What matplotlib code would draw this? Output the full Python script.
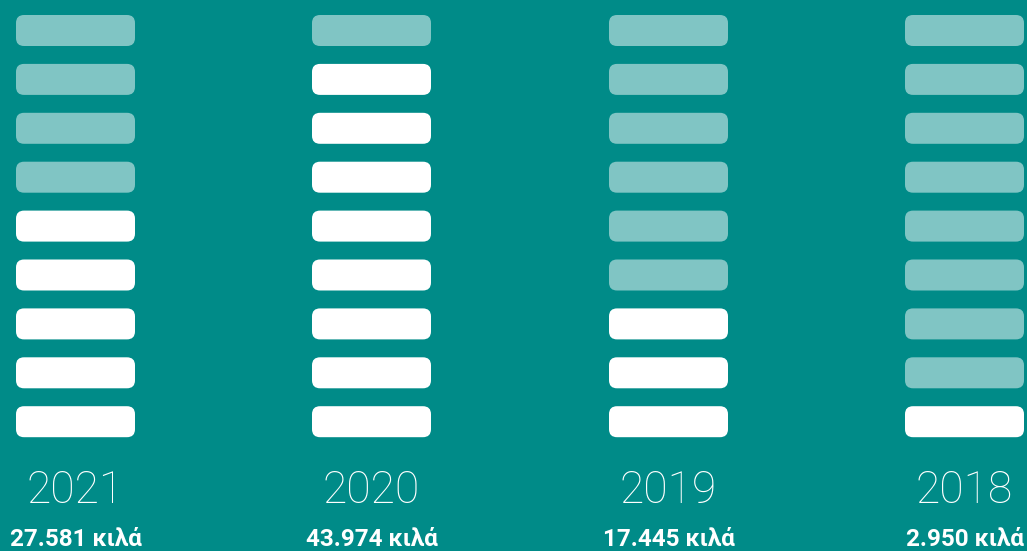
import matplotlib
matplotlib.use('Agg')
from matplotlib import pyplot as plt
from matplotlib.patches import FancyBboxPatch

years = ['2021', '2020', '2019', '2018']
values = ['27.581 κιλά', '43.974 κιλά', '17.445 κιλά', '2.950 κιλά']
filled = [5, 8, 3, 1]
n_slots = 9

bg = '#008b88'
light = '#80c5c4'

fig = plt.figure(figsize=(10.27, 5.51), dpi=100)
fig.patch.set_facecolor(bg)
ax = fig.add_axes([0, 0, 1, 1])
ax.set_facecolor(bg)
ax.set_xlim(0, 1027)
ax.set_ylim(551, 0)
ax.axis('off')

col_left = [16, 312, 609, 905]
w, h = 119, 31
top0, step = 15, 48.9
pad = 8

for i, year in enumerate(years):
    x0 = col_left[i]
    for j in range(n_slots):
        y0 = top0 + j * step
        # slots are filled from the bottom
        is_filled = j >= n_slots - filled[i]
        ax.add_patch(FancyBboxPatch(
            (x0 + pad, y0 + pad), w - 2 * pad, h - 2 * pad,
            boxstyle=f'round,pad={pad}',
            facecolor='white' if is_filled else light,
            edgecolor='none'))
    cx = x0 + w / 2
    ax.text(cx, 491, year, ha='center', va='center', color='white',
            fontsize=32, family='Roboto', fontweight=100)
    ax.text(cx, 539, values[i], ha='center', va='center', color='white',
            fontsize=17.5, family='Roboto', fontweight='bold')

fig.savefig('out.png', dpi=100, facecolor=bg)
